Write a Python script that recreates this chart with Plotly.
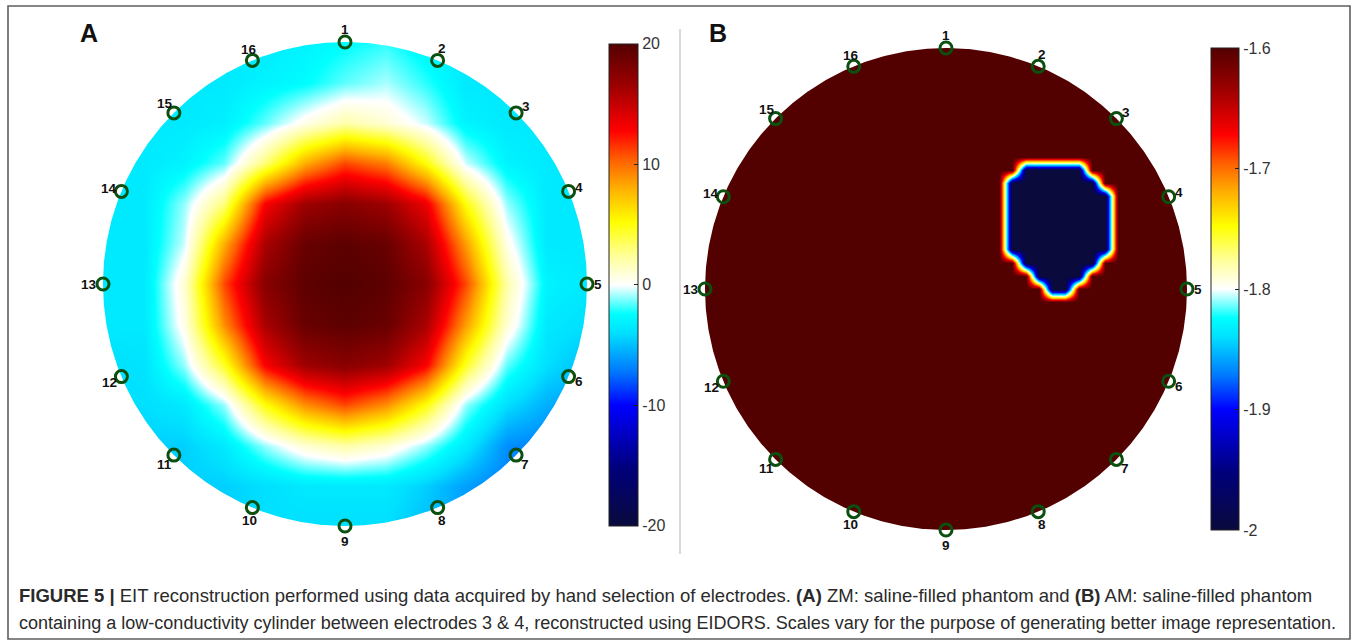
import numpy as np
import plotly.graph_objects as go

W, H = 1354, 643

# ---------------------------------------------------------------- data
# Electrode numbering (16 electrodes, equally spaced, 1 at the top, clockwise)
electrodes = list(range(1, 17))

# Panel A (ZM, saline-filled phantom): reconstructed change on a 13 x 13 node grid
# over the unit disc; rows from top (v = +1) to bottom (v = -1), columns left -> right.
grid_a = np.linspace(-1.0, 1.0, 13)
values_a = [
    [-3.5, -3.5, -3.5, -3.5, -3.5, -3.0, -2.5, -2.0, -3.0, -3.5, -3.5, -3.5, -3.5],
    [-3.5, -3.5, -3.5, -3.5, -3.0, -2.5, -1.5, -0.8, -2.0, -3.5, -3.5, -3.5, -3.5],
    [-3.5, -3.5, -3.5, -3.2, -1.5, 0.5, 2.0, 1.0, -0.5, -3.0, -3.5, -3.5, -3.5],
    [-3.5, -3.5, -3.0, -1.5, 3.0, 8.0, 11.0, 9.5, 5.0, -0.5, -3.0, -3.5, -3.5],
    [-3.5, -3.5, -1.0, 3.0, 13.0, 16.5, 17.5, 16.5, 13.5, 5.0, -1.0, -3.5, -3.5],
    [-3.5, -3.5, -0.5, 8.0, 16.0, 19.0, 19.5, 19.0, 16.0, 8.5, 0.5, -3.5, -3.5],
    [-3.5, -3.5, 1.0, 11.0, 17.5, 19.5, 20.0, 19.5, 17.5, 11.0, 2.0, -3.0, -3.5],
    [-3.5, -3.5, 0.5, 9.0, 16.0, 19.0, 19.5, 19.0, 16.0, 8.5, 1.0, -3.5, -4.0],
    [-4.0, -3.8, -1.0, 4.5, 13.0, 16.5, 17.5, 16.5, 13.0, 4.5, -1.5, -4.0, -5.0],
    [-4.0, -4.0, -3.5, -1.0, 5.0, 9.0, 11.0, 9.0, 5.0, -1.0, -4.0, -5.5, -6.0],
    [-4.5, -4.5, -4.5, -3.5, -1.0, 1.0, 2.0, 1.0, -1.0, -3.5, -6.5, -7.0, -7.0],
    [-4.5, -4.5, -4.5, -4.5, -4.0, -3.5, -3.5, -3.5, -4.5, -6.0, -7.0, -7.0, -7.0],
    [-4.5, -4.5, -4.5, -4.5, -4.0, -4.0, -4.0, -4.0, -5.0, -6.0, -7.0, -7.0, -7.0],
]
range_a = (-20, 20)
ticks_a = [20, 10, 0, -10, -20]

# Panel B (AM, phantom with a low-conductivity cylinder between electrodes 3 & 4)
background_b = -1.6
inclusion_b = -2.0
# inclusion outline: for each row v, the left and right u where it ends
incl_v = [0.535, 0.515, 0.494, 0.452, 0.411, 0.369, 0.328, 0.286, 0.245,
          0.203, 0.162, 0.120, 0.079, 0.037, -0.004, -0.033]
incl_left = [0.400, 0.378, 0.320, 0.274, 0.245, 0.228, 0.220, 0.224, 0.237,
             0.249, 0.274, 0.299, 0.336, 0.378, 0.432, 0.485]
incl_right = [0.470, 0.502, 0.568, 0.618, 0.647, 0.668, 0.676, 0.685, 0.685,
              0.680, 0.668, 0.651, 0.627, 0.585, 0.544, 0.515]
range_b = (-2.0, -1.6)
ticks_b = [-1.6, -1.7, -1.8, -1.9, -2.0]
ticktext_b = ["-1.6", "-1.7", "-1.8", "-1.9", "-2"]

caption_1 = ("<b>FIGURE 5 |</b> EIT reconstruction performed using data acquired by hand "
             "selection of electrodes. <b>(A)</b> ZM: saline-filled phantom and "
             "<b>(B)</b> AM: saline-filled phantom")
caption_2 = ("containing a low-conductivity cylinder between electrodes 3 &amp; 4, "
             "reconstructed using EIDORS. Scales vary for the purpose of generating "
             "better image representation.")

# ---------------------------------------------------------------- styling
FONT = "Liberation Sans, Arial, Helvetica, sans-serif"
JET_WHITE = [
    [0.00, "#0a0a3c"],
    [0.12, "#00007c"],
    [0.25, "#0000ff"],
    [0.32, "#0078ff"],
    [0.40, "#00e0ff"],
    [0.44, "#00ffff"],
    [0.50, "#ffffff"],
    [0.56, "#ffff9a"],
    [0.63, "#ffff00"],
    [0.70, "#ffb000"],
    [0.76, "#ff6000"],
    [0.82, "#ff0000"],
    [0.91, "#a00000"],
    [1.00, "#530000"],
]
ELECTRODE_GREEN = "#0b500f"
# label offsets (px) from each electrode marker, electrode 1..16
label_dx = [0, 4, 10, 10, 11, 10, 9, 4, 0, -3, -9, -12, -14, -12, -9, -3]
label_dy = [12, 12, 6, 4, 0, -5, -9, -13, -15, -13, -9, -6, 0, 3, 9, 11]

AX_HALF = 1.1  # axis half range in disc radii
STEP_B = 0.055  # node spacing of the panel B mesh

# panel placement: disc centre (px) and radius (px)
panels = {
    "a": dict(cx=345, cy=284, r=242, xa="x", ya="y"),
    "b": dict(cx=946, cy=289, r=241, xa="x2", ya="y2"),
}


def domains(p):
    half = AX_HALF * p["r"]
    xd = [(p["cx"] - half) / W, (p["cx"] + half) / W]
    yd = [1 - (p["cy"] + half) / H, 1 - (p["cy"] - half) / H]
    return xd, yd


def disc_mask(box=AX_HALF + 0.05, n=721):
    """White keyhole polygon that hides everything outside the unit disc."""
    t = np.linspace(0.0, -2.0 * np.pi, n)
    xs = [box, box, -box, -box, box, box, 1.0] + list(np.cos(t)) + [box]
    ys = [0.0, box, box, -box, -box, 0.0, 0.0] + list(np.sin(t)) + [0.0]
    return xs, ys


theta = np.deg2rad((np.array(electrodes) - 1) * 22.5)
elec_u = np.sin(theta)
elec_v = np.cos(theta)

fig = go.Figure()

# ---- panel A field
z_a = np.array(values_a)[::-1]
fig.add_trace(go.Heatmap(
    x=grid_a, y=grid_a, z=z_a, zsmooth="best",
    zmin=range_a[0], zmax=range_a[1], colorscale=JET_WHITE,
    xaxis="x", yaxis="y", hoverinfo="skip",
    colorbar=dict(
        x=609 / W, xanchor="left", xpad=0, ypad=0,
        y=1 - 284.75 / H, yanchor="middle",
        len=482, lenmode="pixels", thickness=29, thicknessmode="pixels",
        outlinewidth=1, outlinecolor="#222222",
        tickvals=ticks_a, ticktext=[str(t) for t in ticks_a],
        ticks="inside", ticklen=4, tickcolor="#222222",
        tickfont=dict(family=FONT, size=16, color="#333333"),
    ),
))

# ---- panel B field
grid_b = np.arange(-1.1, 1.1001, STEP_B)
U, V = np.meshgrid(grid_b, grid_b)
v_inc = np.array(incl_v)[::-1]
lo = np.interp(V, v_inc, np.array(incl_left)[::-1])
hi = np.interp(V, v_inc, np.array(incl_right)[::-1])
inside = (V >= v_inc.min()) & (V <= v_inc.max()) & (U >= lo) & (U <= hi)
z_b = np.where(inside, inclusion_b, background_b)
fig.add_trace(go.Heatmap(
    x=grid_b, y=grid_b, z=z_b, zsmooth="best",
    zmin=range_b[0], zmax=range_b[1], colorscale=JET_WHITE,
    xaxis="x2", yaxis="y2", hoverinfo="skip",
    colorbar=dict(
        x=1211 / W, xanchor="left", xpad=0, ypad=0,
        y=1 - 289 / H, yanchor="middle",
        len=482, lenmode="pixels", thickness=28, thicknessmode="pixels",
        outlinewidth=1, outlinecolor="#222222",
        tickvals=ticks_b, ticktext=ticktext_b,
        ticks="inside", ticklen=4, tickcolor="#222222",
        tickfont=dict(family=FONT, size=16, color="#333333"),
    ),
))

annotations = []
mx, my = disc_mask()
for key, p in panels.items():
    # white surround so that only the disc shows
    fig.add_trace(go.Scatter(
        x=mx, y=my, mode="lines", fill="toself", fillcolor="white",
        line=dict(width=0, color="white"), hoverinfo="skip", showlegend=False,
        xaxis=p["xa"], yaxis=p["ya"],
    ))
    # electrodes
    fig.add_trace(go.Scatter(
        x=elec_u, y=elec_v, mode="markers",
        marker=dict(symbol="circle-open", size=12, color=ELECTRODE_GREEN,
                    line=dict(width=3)),
        hoverinfo="skip", showlegend=False, xaxis=p["xa"], yaxis=p["ya"],
    ))
    for k, u, v, dx, dy in zip(electrodes, elec_u, elec_v, label_dx, label_dy):
        annotations.append(dict(
            x=u, y=v, xref=p["xa"], yref=p["ya"], text=str(k), showarrow=False,
            xshift=dx, yshift=dy, xanchor="center", yanchor="middle",
            font=dict(family=FONT, size=13.5, color="#111111", weight="bold"),
        ))

# panel letters
annotations.append(dict(x=89 / W, y=1 - 33 / H, xref="paper", yref="paper", text="<b>A</b>",
                        showarrow=False, xanchor="center", yanchor="middle",
                        font=dict(family=FONT, size=25, color="#111111")))
annotations.append(dict(x=718 / W, y=1 - 33 / H, xref="paper", yref="paper", text="<b>B</b>",
                        showarrow=False, xanchor="center", yanchor="middle",
                        font=dict(family=FONT, size=25, color="#111111")))
# caption
annotations.append(dict(x=17 / W, y=1 - 595 / H, xref="paper", yref="paper", text=caption_1,
                        showarrow=False, xanchor="left", yanchor="middle",
                        font=dict(family=FONT, size=18.5, color="#2a2a2a")))
annotations.append(dict(x=17 / W, y=1 - 623 / H, xref="paper", yref="paper", text=caption_2,
                        showarrow=False, xanchor="left", yanchor="middle",
                        font=dict(family=FONT, size=18.05, color="#2a2a2a")))

shapes = [
    # outer frame
    dict(type="rect", xref="paper", yref="paper",
         x0=8 / W, x1=1350 / W, y0=1 - 639 / H, y1=1 - 6 / H,
         line=dict(color="#5f5f5f", width=1.6), fillcolor="rgba(0,0,0,0)", layer="above"),
    # divider between the panels
    dict(type="line", xref="paper", yref="paper",
         x0=680 / W, x1=680 / W, y0=1 - 554 / H, y1=1 - 29 / H,
         line=dict(color="#c9c9c9", width=1.4), layer="above"),
]

layout_axes = {}
for key, p in panels.items():
    xd, yd = domains(p)
    xname = "xaxis" if p["xa"] == "x" else "xaxis2"
    yname = "yaxis" if p["ya"] == "y" else "yaxis2"
    layout_axes[xname] = dict(domain=xd, range=[-AX_HALF, AX_HALF], visible=False,
                              fixedrange=True, anchor=p["ya"])
    layout_axes[yname] = dict(domain=yd, range=[-AX_HALF, AX_HALF], visible=False,
                              fixedrange=True, anchor=p["xa"])

fig.update_layout(
    width=W, height=H, autosize=False,
    margin=dict(l=0, r=0, t=0, b=0),
    paper_bgcolor="white", plot_bgcolor="white",
    showlegend=False,
    annotations=annotations, shapes=shapes,
    **layout_axes,
)

fig.write_html("out.html", config=dict(displayModeBar=False))
